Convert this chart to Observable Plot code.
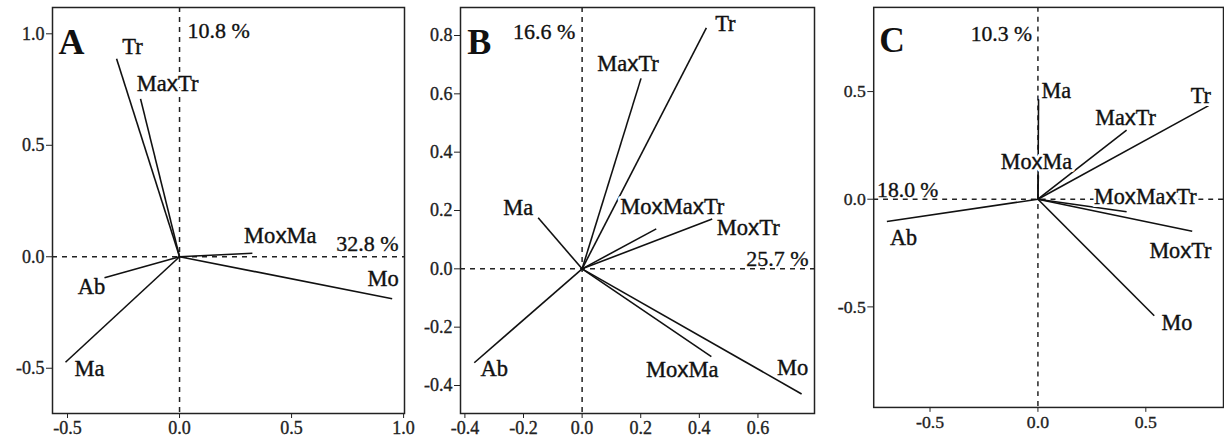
<!DOCTYPE html>
<html>
<head>
<meta charset="utf-8">
<script src="https://cdn.jsdelivr.net/npm/d3@7"></script>
<script src="https://cdn.jsdelivr.net/npm/@observablehq/plot@0.6"></script>
<style>
  html, body { margin: 0; padding: 0; background: white; overflow: hidden; }
  #wrap { position: relative; width: 1224px; height: 441px; overflow: hidden; background: white; }
  .panel { position: absolute; top: 0; }
  .panel svg, .panel svg text { font-family: "Liberation Serif", "Times New Roman", Times, serif !important; }
  .panel svg tspan.sx { font-family: "Liberation Sans", Arial, sans-serif !important; }
  .panel g[aria-label$="tick label"] text { stroke: #222; stroke-width: 0.35px; }
</style>
</head>
<body>
<div id="wrap"></div>
<script>
// ---------- data ----------
const panelLetters = ["A", "B", "C"];
const pc1Labels = ["32.8 %", "25.7 %", "18.0 %"];
const pc2Labels = ["10.8 %", "16.6 %", "10.3 %"];

const namesA = ["Tr", "MaxTr", "MoxMa", "Mo", "Ab", "Ma"];
const pc1A   = [-0.281, -0.174, 0.325, 0.949, -0.335, -0.509];
const pc2A   = [0.888, 0.708, 0.016, -0.188, -0.094, -0.473];

const namesB = ["Tr", "MaxTr", "Ma", "MoxMaxTr", "MoxTr", "Ab", "MoxMa", "Mo"];
const pc1B   = [0.424, 0.201, -0.150, 0.253, 0.444, -0.368, 0.441, 0.749];
const pc2B   = [0.826, 0.653, 0.175, 0.137, 0.171, -0.322, -0.301, -0.429];

const namesC = ["Ma", "Tr", "MaxTr", "MoxMa", "MoxMaxTr", "MoxTr", "Mo", "Ab"];
const pc1C   = [0.003, 0.791, 0.411, 0.002, 0.411, 0.715, 0.539, -0.700];
const pc2C   = [0.465, 0.435, 0.321, 0.110, -0.058, -0.149, -0.541, -0.103];

const xTicksA = [-0.5, 0.0, 0.5, 1.0];
const yTicksA = [-0.5, 0.0, 0.5, 1.0];
const xTicksB = [-0.4, -0.2, 0.0, 0.2, 0.4, 0.6];
const yTicksB = [-0.4, -0.2, 0.0, 0.2, 0.4, 0.6, 0.8];
const xTicksC = [-0.5, 0.0, 0.5];
const yTicksC = [-0.5, 0.0, 0.5];

// ---------- layout / style (pixel offsets of labels from vector tips) ----------
const layout = [
  { left: 0, marginLeft: 52, marginRight: 6, xDomain: [-0.567, 1.004], yDomain: [-0.703, 1.118],
    letter: {dx: 6, dy: 21}, pc2: {dx: 8, dy: 14.7, anchor: "start"}, pc1: {dx: -6, dy: -13.3, frame: "right", anchor: "end"},
    offsets: { Tr: [16, -12], MaxTr: [27, -15], MoxMa: [28, -17], Mo: [-9, -20], Ab: [-13, 9], Ma: [24, 7] } },
  { left: 410, marginLeft: 50, marginRight: 6, xDomain: [-0.415, 0.793], yDomain: [-0.496, 0.896],
    letter: {dx: 6.7, dy: 21}, pc2: {dx: -6.7, dy: 15.7, anchor: "end"}, pc1: {dx: -6, dy: -10.3, frame: "right", anchor: "end"},
    offsets: { Tr: [19, -4], MaxTr: [-13, -15], Ma: [-20, -10], MoxMaxTr: [16, -22], MoxTr: [36, 9], Ab: [20, 6], MoxMa: [-29, 13], Mo: [-9, -26] } },
  { left: 820, marginLeft: 54, marginRight: 1, xDomain: [-0.761, 0.86], yDomain: [-0.967, 0.891],
    letter: {dx: 5.7, dy: 19.7}, pc2: {dx: -6, dy: 18, anchor: "end"}, pc1: {dx: 3.4, dy: -9, frame: "left", anchor: "start"},
    offsets: { Ma: [18, -8], Tr: [-8, -10], MaxTr: [-1, -12], MoxMa: [-2, -14], MoxMaxTr: [19, -15.3], MoxTr: [-12, 20], Mo: [23, 7], Ab: [17, 17] } }
];

const datasets = [
  { names: namesA, x: pc1A, y: pc2A, xt: xTicksA, yt: yTicksA },
  { names: namesB, x: pc1B, y: pc2B, xt: xTicksB, yt: yTicksB },
  { names: namesC, x: pc1C, y: pc2C, xt: xTicksC, yt: yTicksC }
];

const FONT = "Liberation Serif";
const INK = "#111";
const fmt = d => d.toFixed(1);

// render the interaction "x" of variable labels in a sans face, as in the original figure
function sansX(svg) {
  svg.querySelectorAll('g.vlabel text').forEach(t => {
    const s = t.textContent;
    if (!s.includes("x")) return;
    t.textContent = "";
    s.split(/(x)/).forEach(part => {
      if (!part) return;
      const ts = document.createElementNS("http://www.w3.org/2000/svg", "tspan");
      if (part === "x") ts.setAttribute("class", "sx");
      ts.textContent = part;
      t.appendChild(ts);
    });
  });
}

datasets.forEach((ds, i) => {
  const L = layout[i];
  const data = ds.names.map((n, j) => ({ name: n, x: ds.x[j], y: ds.y[j] }));
  const labelMarks = data.flatMap(d => {
    const base = { x: "x", y: "y", text: "name", dx: L.offsets[d.name][0], dy: L.offsets[d.name][1], fontSize: 22.5, fontFamily: FONT, className: "vlabel" };
    return [
      Plot.text([d], { ...base, fill: "white", stroke: "white", strokeWidth: 6 }),
      Plot.text([d], { ...base, fill: INK, stroke: INK, strokeWidth: 0.4 })
    ];
  });
  const svg = Plot.plot({
    width: 410, height: 441,
    marginLeft: L.marginLeft, marginRight: L.marginRight, marginTop: 7, marginBottom: 28,
    x: { domain: L.xDomain, ticks: ds.xt, tickFormat: fmt, label: null, tickSize: 5, tickPadding: 3 },
    y: { domain: L.yDomain, ticks: ds.yt, tickFormat: fmt, label: null, tickSize: 6, tickPadding: 2 },
    style: { fontFamily: FONT, fontSize: "18px", color: "#222", background: "transparent", overflow: "visible" },
    marks: [
      Plot.ruleX([0], { stroke: "#222", strokeWidth: 1.5, strokeDasharray: "5,5" }),
      Plot.ruleY([0], { stroke: "#222", strokeWidth: 1.5, strokeDasharray: "5,5" }),
      Plot.link(data, { x1: () => 0, y1: () => 0, x2: "x", y2: "y", stroke: INK, strokeWidth: 1.6 }),
      ...labelMarks,
      Plot.text([pc2Labels[i]], { x: () => 0, frameAnchor: "top", textAnchor: L.pc2.anchor, dx: L.pc2.dx, dy: L.pc2.dy, fontSize: 22, fontFamily: FONT, fill: INK, stroke: INK, strokeWidth: 0.35 }),
      Plot.text([pc1Labels[i]], { y: () => 0, frameAnchor: L.pc1.frame, textAnchor: L.pc1.anchor, dx: L.pc1.dx, dy: L.pc1.dy, fontSize: 22, fontFamily: FONT, fill: INK, stroke: INK, strokeWidth: 0.35 }),
      Plot.text([panelLetters[i]], { frameAnchor: "top-left", textAnchor: "start", dx: L.letter.dx, dy: L.letter.dy, fontSize: 36, fontFamily: FONT, fontWeight: "bold", fill: INK }),
      Plot.frame({ stroke: "#222", strokeWidth: 1.5 })
    ]
  });
  svg.style.fontFamily = FONT;
  sansX(svg);
  const div = document.createElement("div");
  div.className = "panel";
  div.style.left = L.left + "px";
  div.appendChild(svg);
  document.getElementById("wrap").appendChild(div);
});
</script>
</body>
</html>
